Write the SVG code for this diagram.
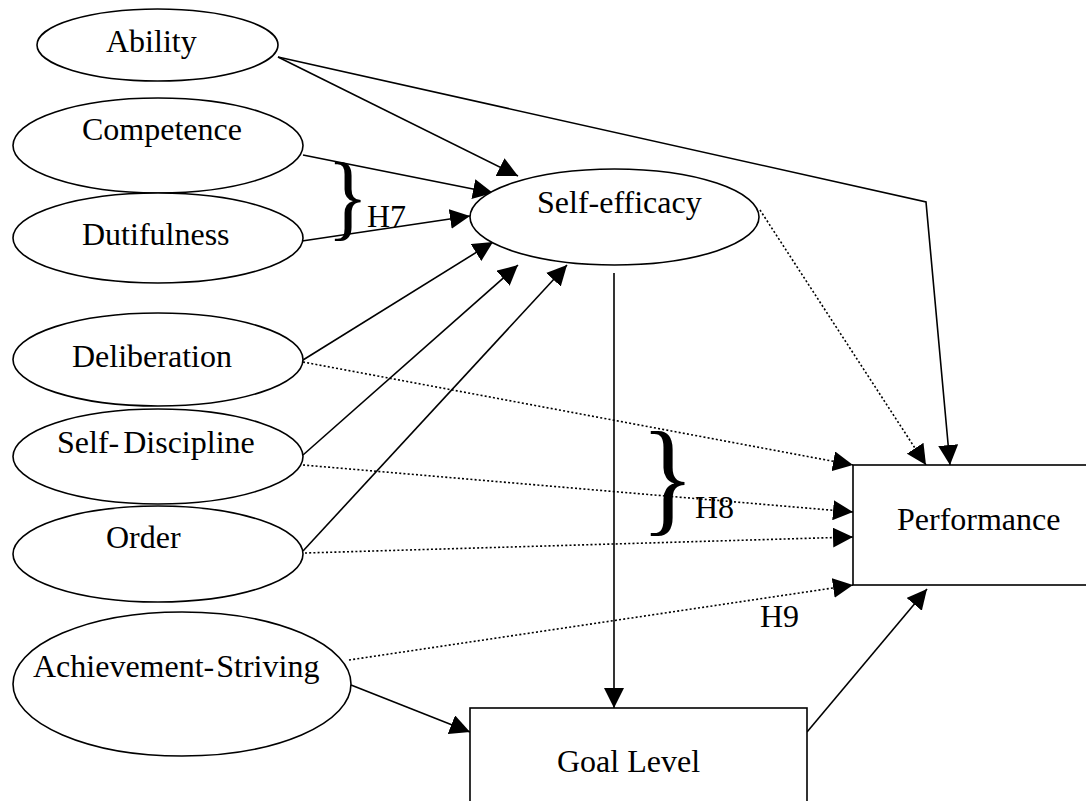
<svg xmlns="http://www.w3.org/2000/svg" width="1086" height="801" viewBox="0 0 1086 801">
<style>
.shape{fill:#fff;stroke:#000;stroke-width:1.6}
.lbl{font-family:"Liberation Serif","Times New Roman",serif;font-size:32px;fill:#000}
.c{fill:none;stroke:#000;stroke-width:1.6}
.d{fill:none;stroke:#000;stroke-width:1.6;stroke-dasharray:2 2.2}
.brace{font-family:"Liberation Serif","Times New Roman",serif;fill:#000}
</style>
<defs>
<marker id="ah" markerUnits="userSpaceOnUse" markerWidth="20" markerHeight="20" refX="20" refY="10" orient="auto" viewBox="0 0 20 20">
<path d="M0,0 L20,10 L0,20 z" fill="#000"/>
</marker>
</defs>
<rect width="1086" height="801" fill="#fff"/>
<g id="connectors">
<line class="c" x1="278" y1="57" x2="518" y2="176" marker-end="url(#ah)"/>
<polyline class="c" points="278,57 926,202 950,465" marker-end="url(#ah)"/>
<line class="c" x1="303" y1="155" x2="493" y2="193" marker-end="url(#ah)"/>
<line class="c" x1="302" y1="241" x2="470" y2="216" marker-end="url(#ah)"/>
<line class="c" x1="303" y1="360" x2="493" y2="242" marker-end="url(#ah)"/>
<line class="c" x1="303" y1="455" x2="518" y2="265" marker-end="url(#ah)"/>
<line class="c" x1="303" y1="551" x2="567" y2="265" marker-end="url(#ah)"/>
<line class="d" x1="760" y1="210" x2="926" y2="465" marker-end="url(#ah)"/>
<line class="c" x1="614" y1="273" x2="614" y2="708" marker-end="url(#ah)"/>
<line class="d" x1="303" y1="362" x2="853" y2="465" marker-end="url(#ah)"/>
<line class="d" x1="303" y1="465" x2="853" y2="512" marker-end="url(#ah)"/>
<line class="d" x1="305" y1="553" x2="853" y2="537" marker-end="url(#ah)"/>
<line class="d" x1="349" y1="660" x2="853" y2="585" marker-end="url(#ah)"/>
<line class="c" x1="351" y1="685" x2="470" y2="732" marker-end="url(#ah)"/>
<line class="c" x1="807" y1="732" x2="927" y2="589" marker-end="url(#ah)"/>
</g>
<g id="ability"><ellipse class="shape" cx="157.5" cy="45" rx="120.5" ry="36"/><text class="lbl" x="106" y="52">Ability</text></g>
<g id="competence"><ellipse class="shape" cx="158" cy="145.5" rx="145" ry="47.5"/><text class="lbl" x="82" y="140">Competence</text></g>
<g id="dutifulness"><ellipse class="shape" cx="158" cy="238" rx="145" ry="45"/><text class="lbl" x="82" y="245">Dutifulness</text></g>
<g id="deliberation"><ellipse class="shape" cx="158" cy="359.5" rx="145" ry="46.5"/><text class="lbl" x="72" y="367">Deliberation</text></g>
<g id="self-discipline"><ellipse class="shape" cx="158" cy="456.5" rx="145" ry="47.5"/><text class="lbl" x="57" y="453">Self-<tspan dx="4">Discipline</tspan></text></g>
<g id="order"><ellipse class="shape" cx="158" cy="554" rx="145" ry="48"/><text class="lbl" x="106" y="548">Order</text></g>
<g id="achievement-striving"><ellipse class="shape" cx="182" cy="684" rx="169" ry="72"/><text class="lbl" x="33" y="677">Achievement-<tspan dx="2">Striving</tspan></text></g>
<g id="self-efficacy"><ellipse class="shape" cx="614.5" cy="217" rx="144.5" ry="48"/><text class="lbl" x="537" y="213">Self-efficacy</text></g>
<g id="performance"><rect class="shape" x="853" y="465" width="240" height="120"/><text class="lbl" x="897" y="530">Performance</text></g>
<g id="goal-level"><rect class="shape" x="470" y="708" width="337" height="100"/><text class="lbl" x="557" y="772">Goal Level</text></g>
<g id="h7"><text class="brace" font-size="96" transform="translate(327,227.6) scale(0.9,1)">}</text><text class="lbl" x="367" y="227">H7</text></g>
<g id="h8"><text class="brace" font-size="127" transform="translate(640.4,518.7) scale(0.89,1)">}</text><text class="lbl" x="695" y="518">H8</text></g>
<g id="h9"><text class="lbl" x="760" y="627">H9</text></g>
</svg>
